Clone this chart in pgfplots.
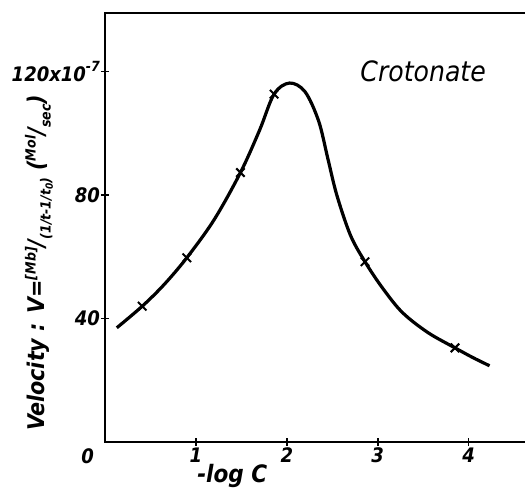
\documentclass[border=0pt]{standalone}
\usepackage{fontspec}
\setmainfont{DejaVu Sans Condensed}
\usepackage{pgfplots}
\pgfplotsset{compat=1.18}
\begin{document}
\begin{tikzpicture}
\path[use as bounding box] (-52.5pt,-24pt) rectangle (210pt,221pt);
\begin{axis}[
  at={(0,0)}, anchor=south west,
  scale only axis, width=215.9pt, height=214.5pt,
  xmin=0, xmax=4.75, ymin=0, ymax=139,
  axis line style={-, line width=1pt},
  xtick={1,2,3,4}, ytick={40,80,120},
  yticklabels={40,80,{120x10\raisebox{0.9ex}{\scriptsize -7}}},
  xtick pos=left, ytick pos=left,
  tick align=center, major tick length=4pt,
  tick style={line width=0.8pt, black},
  /pgf/number format/assume math mode=true,
  tick label style={font=\fontsize{10}{12}\selectfont\bfseries\itshape},
  xticklabel style={yshift=2.5pt},
  yticklabel style={xshift=3pt},
  clip=false,
]
\addplot[black, line width=1.6pt, smooth, tension=0.55] coordinates {
(0.13,37) (0.41,44) (0.65,51) (0.9,59.7) (1.2,72) (1.49,87.3) (1.7,101) (1.86,112.7)
(2.03,116.3) (2.2,113.5) (2.35,104) (2.45,92) (2.55,80)
(2.7,67) (2.86,58.4) (3.05,50) (3.27,42) (3.55,35.5) (3.85,30.5) (4.05,27.3) (4.23,24.7)
};
\addplot[only marks, mark=x, mark size=3pt, mark options={line width=1pt, black}] coordinates {
(0.41,44) (0.9,59.7) (1.49,87.3) (1.86,112.7) (2.86,58.4) (3.85,30.5)
};
\node[anchor=north east, font=\fontsize{10}{12}\selectfont\bfseries\itshape] at ([xshift=-2pt,yshift=0pt]axis cs:0,0) {0};
\node[anchor=base, font=\fontsize{12}{14}\selectfont\bfseries\itshape] at ([yshift=-20.5pt]axis cs:1.4,0) {-log C};
\node[font=\fontsize{14}{16}\selectfont\itshape] at (axis cs:3.5,120) {Crotonate};
\node[rotate=90, font=\fontsize{11.5}{14}\selectfont\bfseries\itshape] at ([xshift=-33pt]axis cs:0,58)
 {Velocity : V=\raisebox{0.7ex}{\scriptsize [Mb]}/\raisebox{-0.5ex}{\scriptsize (1/t-1/t\raisebox{-0.3ex}{\tiny 0})}\ (\raisebox{0.7ex}{\scriptsize Mol}/\raisebox{-0.5ex}{\scriptsize sec})};
\end{axis}
\end{tikzpicture}
\end{document}
